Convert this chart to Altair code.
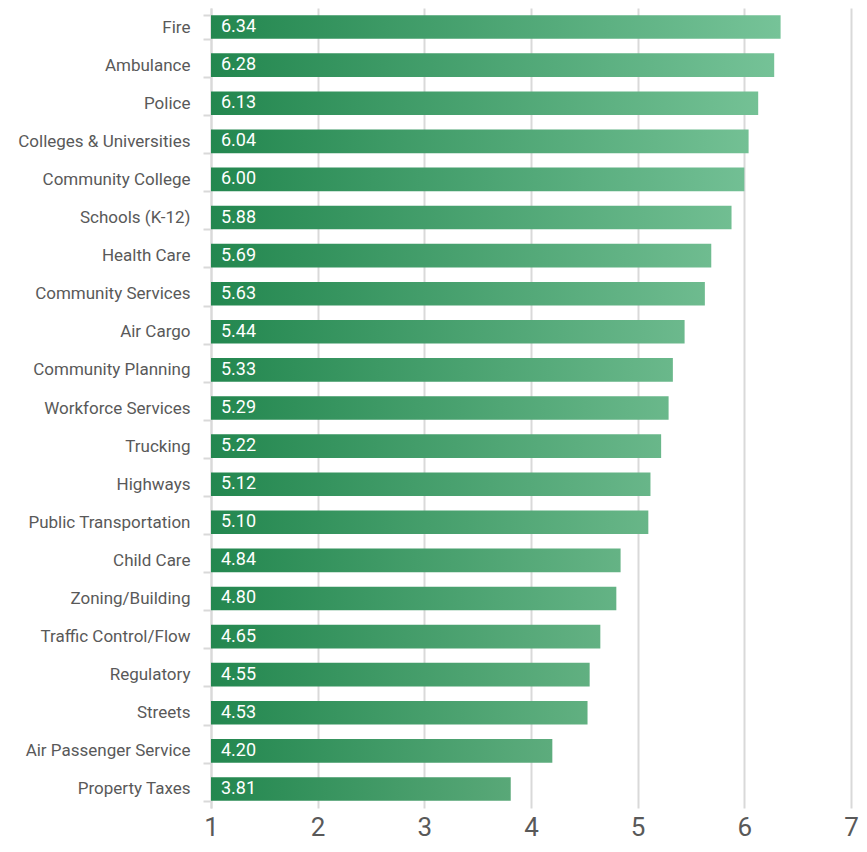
import altair as alt
import pandas as pd

categories = ["Fire", "Ambulance", "Police", "Colleges & Universities", "Community College",
              "Schools (K-12)", "Health Care", "Community Services", "Air Cargo",
              "Community Planning", "Workforce Services", "Trucking", "Highways",
              "Public Transportation", "Child Care", "Zoning/Building", "Traffic Control/Flow",
              "Regulatory", "Streets", "Air Passenger Service", "Property Taxes"]
values = [6.34, 6.28, 6.13, 6.04, 6.00, 5.88, 5.69, 5.63, 5.44, 5.33, 5.29, 5.22, 5.12,
          5.10, 4.84, 4.80, 4.65, 4.55, 4.53, 4.20, 3.81]
x_ticks = [1, 2, 3, 4, 5, 6, 7]

df = pd.DataFrame({"cat": categories, "value": values})
df["label"] = [f"{v:.2f}" for v in values]

FONT = "Roboto"
LEFT = (35, 135, 79)
END_LO = (89, 168, 120)   # end colour of shortest bar
END_HI = (118, 195, 152)  # end colour of longest bar


def end_color(v):
    t = (v - min(values)) / (max(values) - min(values))
    c = [round(a + (b - a) * t) for a, b in zip(END_LO, END_HI)]
    return "#%02x%02x%02x" % tuple(c)


y_enc = alt.Y("cat:N", sort=categories,
              scale=alt.Scale(paddingInner=0.38, paddingOuter=0.19),
              axis=alt.Axis(title=None, domainColor="#d9d9d9", domainWidth=2,
                            tickColor="#d9d9d9", tickWidth=2, tickSize=8,
                            tickBand="extent", grid=False, labelFontSize=17,
                            labelColor="#595959", labelPadding=13, labelFont=FONT,
                            labelLimit=300))
x_enc = alt.X("value:Q", scale=alt.Scale(domain=[1, 7], zero=False, nice=False),
              axis=alt.Axis(title=None, values=x_ticks, domain=False, ticks=False,
                            grid=True, gridColor="#d9d9d9", gridWidth=2,
                            labelFontSize=26, labelColor="#595959", labelPadding=6,
                            labelFont=FONT, labelFlush=False, labelOverlap=False,
                            format="d"))

base = alt.Chart(df)
layers = []
for c, v in zip(categories, values):
    grad = alt.Gradient(gradient="linear", x1=0, y1=0, x2=1, y2=0,
                        stops=[alt.GradientStop(color="#%02x%02x%02x" % LEFT, offset=0),
                               alt.GradientStop(color=end_color(v), offset=1)])
    layers.append(
        base.transform_filter(alt.datum.cat == c)
        .mark_bar(color=grad)
        .encode(y=y_enc, x=x_enc, x2=alt.datum(1))
    )

text = base.mark_text(align="left", dx=10, color="white", fontSize=18, font=FONT,
                      baseline="middle").encode(
    y=alt.Y("cat:N", sort=categories),
    x=alt.datum(1),
    text="label:N",
)

chart = alt.layer(*layers, text).properties(
    width=640, height=800,
    autosize=alt.AutoSizeParams(type="none"),
    padding={"left": 203, "top": 0, "right": 8, "bottom": 32},
).configure_view(strokeWidth=0)

chart.save("out.html", embed_options={"renderer": "svg", "actions": False})
